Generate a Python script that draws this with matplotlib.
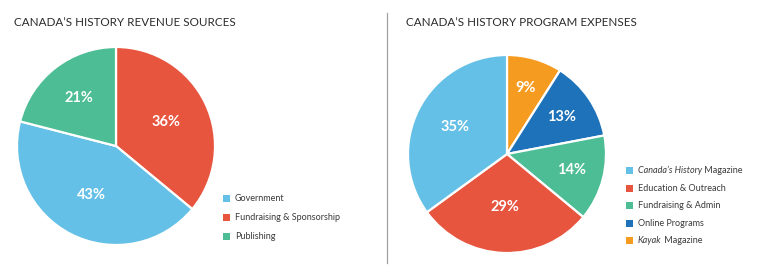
import matplotlib
matplotlib.use("Agg")
import matplotlib.pyplot as plt
from matplotlib.patches import Rectangle
import numpy as np

plt.rcParams['font.family'] = ['Lato', 'DejaVu Sans']

W, H = 768, 276

# Revenue sources (clockwise from top)
rev_labels = ["Fundraising & Sponsorship", "Government", "Publishing"]
rev_values = [36, 43, 21]
rev_legend = ["Government", "Fundraising & Sponsorship", "Publishing"]

# Program expenses (clockwise from top)
exp_labels = ["Kayak Magazine", "Online Programs", "Fundraising & Admin",
              "Education & Outreach", "Canada's History Magazine"]
exp_values = [9, 13, 14, 29, 35]
exp_legend = [("Canada\u2019s History", " Magazine"), ("", "Education & Outreach"),
              ("", "Fundraising & Admin"), ("", "Online Programs"),
              ("Kayak", " Magazine")]

LIGHT_BLUE = '#64C0E6'
RED = '#E8553F'
GREEN = '#4CBD95'
DARK_BLUE = '#1E72B9'
ORANGE = '#F59B20'

rev_colors = {"Government": LIGHT_BLUE, "Fundraising & Sponsorship": RED, "Publishing": GREEN}
exp_colors = {"Canada's History Magazine": LIGHT_BLUE, "Education & Outreach": RED,
              "Fundraising & Admin": GREEN, "Online Programs": DARK_BLUE, "Kayak Magazine": ORANGE}
exp_legend_colors = [LIGHT_BLUE, RED, GREEN, DARK_BLUE, ORANGE]


def fx(x):
    return x / W


def fy(y):
    return 1 - y / H


fig = plt.figure(figsize=(W / 100, H / 100), dpi=100, facecolor='white')


def draw_pie(cx, cy, r, values, colors, label_dist):
    ax = fig.add_axes([fx(cx - r), fy(cy + r), 2 * r / W, 2 * r / H])
    wedges, _ = ax.pie(values, colors=colors, startangle=90, counterclock=False,
                       wedgeprops=dict(edgecolor='white', linewidth=1.6))
    for w, v, d in zip(wedges, values, label_dist):
        ang = np.deg2rad((w.theta1 + w.theta2) / 2)
        ax.text(d * np.cos(ang), d * np.sin(ang), f"{v}%", color='white',
                fontsize=10.5, fontweight='bold', ha='center', va='center')
    ax.set_xlim(-1.01, 1.01)
    ax.set_ylim(-1.01, 1.01)
    ax.axis('off')
    return ax


draw_pie(116, 146, 100, rev_values, [rev_colors[k] for k in rev_labels], [0.56, 0.55, 0.61])
draw_pie(507, 154, 100, exp_values, [exp_colors[k] for k in exp_labels],
         [0.69, 0.67, 0.67, 0.54, 0.59])

# titles
fig.text(fx(14), fy(22), "CANADA\u2019S HISTORY REVENUE SOURCES", fontsize=8.4,
         color='#2b2b2b', va='center', ha='left')
fig.text(fx(406), fy(22), "CANADA\u2019S HISTORY PROGRAM EXPENSES", fontsize=8.4,
         color='#2b2b2b', va='center', ha='left')

# divider
fig.add_artist(plt.Line2D([fx(386.5), fx(386.5)], [fy(13), fy(263)], color='#a0a0a0',
                          linewidth=0.9))

renderer = fig.canvas.get_renderer()


def legend_row(x, y, color, italic, rest):
    fig.add_artist(Rectangle((fx(x), fy(y + 3.5)), 7 / W, 7 / H, facecolor=color,
                             edgecolor='none', transform=fig.transFigure))
    tx = x + 12
    if italic:
        t = fig.text(fx(tx), fy(y), italic, fontsize=6.5, style='italic', color='#3a3a3a',
                     va='center', ha='left')
        tx += t.get_window_extent(renderer).width
    fig.text(fx(tx), fy(y), rest, fontsize=6.5, color='#3a3a3a', va='center', ha='left')


for i, name in enumerate(rev_legend):
    legend_row(223, 198.5 + i * 19, rev_colors[name], "", name)

for i, (it, rest) in enumerate(exp_legend):
    legend_row(626, 170.7 + i * 17.5, exp_legend_colors[i], it, rest)

fig.savefig("out.png", dpi=100, facecolor='white')
